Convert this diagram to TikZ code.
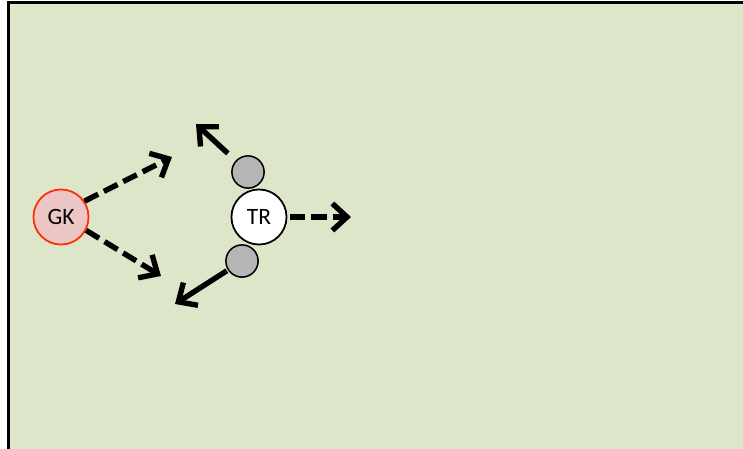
\documentclass[tikz,border=0pt]{standalone}
\usepackage{fontspec}
\setmainfont{Carlito}
\usetikzlibrary{arrows.meta}

\definecolor{pitch}{RGB}{221,230,200}
\definecolor{keeper}{RGB}{236,198,197}
\definecolor{keeperline}{RGB}{255,45,5}
\definecolor{ballgray}{RGB}{181,181,181}

\tikzset{
  player/.style={circle, draw, line width=1.5pt, minimum size=47pt, inner sep=0pt,
    font=\fontsize{20}{20}\selectfont},
  ballnode/.style={circle, draw, fill=ballgray, line width=1.3pt, minimum size=27.5pt, inner sep=0pt},
  run/.style={line width=4.6pt, -{Straight Barb[length=12.5pt,width=23pt]}},
  pass/.style={run, dash pattern=on 13pt off 5.5pt},
}

\begin{document}
\begin{tikzpicture}[x=0.03cm, y=-0.03cm]
    \useasboundingbox (0,0) rectangle (743,449);

    % Pitch, only left and top edges are inside the frame
    \fill[pitch] (8.5,2.5) rectangle (743,449);
    \draw[line width=2.5pt] (8.5,449) -- (8.5,2.5) -- (743,2.5);

    % Balls sit behind the trainer
    \node[ballnode] (ballA) at (248,172) {};
    \node[ballnode] (ballB) at (242,261) {};

    % Players
    \node[player, draw=keeperline, fill=keeper] (gk) at (61,217) {GK};
    \node[player, fill=white] (tr) at (259,217) {TR};

    % Targets
    \coordinate (passA) at (172,157);
    \coordinate (passB) at (161,276);
    \coordinate (passC) at (351,217);
    \coordinate (runA) at (196,124);
    \coordinate (runB) at (175,304);

    % Passes (dashed)
    \draw[pass] (gk.34) -- (passA);
    \draw[pass] (gk.-28) -- (passB);
    \draw[pass, shorten <=2pt] (tr) -- (passC);

    % Runs (solid)
    \draw[run, shorten <=9pt] (ballA) -- (runA);
    \draw[run, shorten <=1pt] (ballB) -- (runB);
\end{tikzpicture}
\end{document}
